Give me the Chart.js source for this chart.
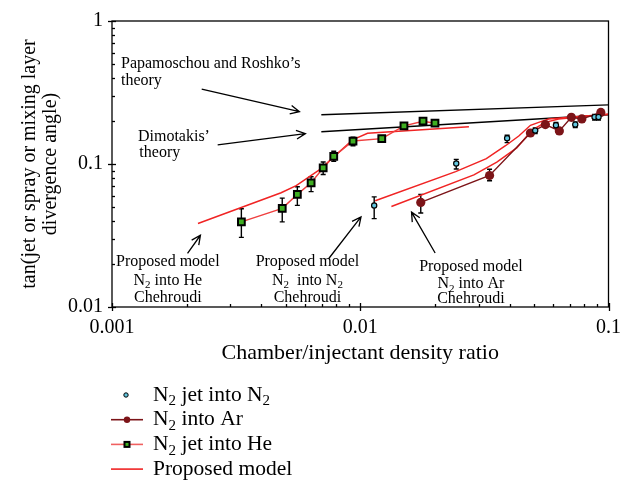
<!DOCTYPE html>
<html>
<head>
<meta charset="utf-8">
<script src="https://cdn.jsdelivr.net/npm/chart.js@4.4.1/dist/chart.umd.min.js"></script>
<style>
  html, body { margin: 0; padding: 0; background: #fff; }
</style>
</head>
<body>
<canvas id="myChart" width="630" height="482"></canvas>
<script>
var font = 'Liberation Serif';

// N2 jet into He (green squares, with error bars)
var heX  = [0.00332, 0.00485, 0.00558, 0.00634, 0.00709, 0.00782, 0.00935, 0.01221, 0.0150, 0.0179, 0.0200];
var heY  = [0.0394, 0.0490, 0.0613, 0.0739, 0.0938, 0.1131, 0.1447, 0.1505, 0.1848, 0.1992, 0.1928];
var heLo = [0.0307, 0.0394, 0.0514, 0.0641, 0.0844, 0.1045, 0.1342, 0.1436, 0.1764, 0.1901, 0.1850];
var heHi = [0.0486, 0.0577, 0.0694, 0.0814, 0.1033, 0.1229, 0.1538, 0.1577, 0.1936, 0.2087, 0.2010];

// N2 jet into N2 (cyan circles, no line)
var n2X  = [0.01138, 0.02436, 0.03905, 0.05067, 0.06142, 0.07347, 0.08786, 0.09117];
var n2Y  = [0.0512, 0.1008, 0.1514, 0.1712, 0.1865, 0.1886, 0.2128, 0.2128];
var n2Lo = [0.0415, 0.0922, 0.1411, 0.1630, 0.1780, 0.1800, 0.2030, 0.2030];
var n2Hi = [0.0589, 0.1078, 0.1587, 0.1790, 0.1950, 0.1970, 0.2220, 0.2220];

// N2 into Ar (dark red circles joined by a line)
var arX  = [0.01753, 0.03318, 0.04848, 0.05569, 0.06339, 0.07086, 0.07811, 0.09314];
var arY  = [0.0539, 0.0831, 0.1648, 0.1886, 0.1703, 0.2121, 0.2065, 0.2294];
var arLo = [0.0454, 0.0764, null, null, 0.1620, null, null, null];
var arHi = [0.0613, 0.0918, null, null, 0.1780, null, null, null];

// proposed model curves
var modelHeX = [0.00222, 0.00480, 0.00552, 0.00684, 0.00931, 0.0107, 0.0274];
var modelHeY = [0.0384, 0.0630, 0.0706, 0.0908, 0.1475, 0.1638, 0.1819];
var modelN2X = [0.01149, 0.02423, 0.03221, 0.03847, 0.04351, 0.04848, 0.05234, 0.05741, 0.07125, 0.1];
var modelN2Y = [0.0553, 0.0885, 0.1090, 0.1342, 0.1570, 0.1865, 0.1955, 0.2062, 0.2128, 0.2230];
var modelArX = [0.01335, 0.02869, 0.03549, 0.04270, 0.04920, 0.05569, 0.06297, 0.1];
var modelArY = [0.0504, 0.0839, 0.1032, 0.1295, 0.1725, 0.1955, 0.2062, 0.2230];

// theory lines
var papX = [0.00697, 0.1];
var papY = [0.221, 0.259];
var dimX = [0.00697, 0.1];
var dimY = [0.168, 0.221];

// axis tick labels
var xMajor = [0.001, 0.01, 0.1];
var yMajor = [0.01, 0.1, 1];

var legendLabels = ['N_2 jet into N_2', 'N_2 into Ar', 'N_2 jet into He', 'Proposed model'];

// text notes and arrows, in data coordinates
var notes = [
  { t: 'Papamoschou and Roshko\u2019s', x: 0.001087, y: 0.501, a: 'left' },
  { t: 'theory', x: 0.001087, y: 0.384, a: 'left' },
  { t: 'Dimotakis\u2019', x: 0.001272, y: 0.1545, a: 'left' },
  { t: 'theory', x: 0.001289, y: 0.1202, a: 'left' },
  { t: 'Proposed model', x: 0.001679, y: 0.0207, a: 'center' },
  { t: 'N_2 into He', x: 0.001679, y: 0.01537, a: 'center' },
  { t: 'Chehroudi', x: 0.001679, y: 0.01159, a: 'center' },
  { t: 'Proposed model', x: 0.006125, y: 0.0207, a: 'center' },
  { t: 'N_2  into N_2', x: 0.006125, y: 0.01537, a: 'center' },
  { t: 'Chehroudi', x: 0.006125, y: 0.01159, a: 'center' },
  { t: 'Proposed model', x: 0.02791, y: 0.01915, a: 'center' },
  { t: 'N_2 into Ar', x: 0.02791, y: 0.01443, a: 'center' },
  { t: 'Chehroudi', x: 0.02791, y: 0.01141, a: 'center' }
];
var arrows = [
  { x1: 0.002298, y1: 0.3333, x2: 0.005689, y2: 0.2323 },
  { x1: 0.002665, y1: 0.1362, x2: 0.006013, y2: 0.1632 },
  { x1: 0.002015, y1: 0.02371, x2: 0.002271, y2: 0.03175 },
  { x1: 0.007483, y1: 0.02192, x2: 0.01007, y2: 0.04271 },
  { x1: 0.02003, y1: 0.02385, x2: 0.01609, y2: 0.04606 }
];

var red = '#f02424';
var heLine = '#ef3f3f';
var darkRed = '#7c1418';
var cyan = '#62c6df';
var green = '#3fae22';

function pts(xs, ys) {
  return xs.map(function (x, i) { return { x: x, y: ys[i] }; });
}

function decadeTicks(lo, hi) {
  var out = [];
  for (var e = Math.round(Math.log10(lo)); e < Math.round(Math.log10(hi)); e++) {
    for (var m = 1; m < 10; m++) out.push(m * Math.pow(10, e));
  }
  out.push(hi);
  return out;
}

function isMajor(v, list) {
  return list.some(function (m) { return Math.abs(v / m - 1) < 1e-6; });
}

// text with "_2" style subscripts
function richText(ctx, str, x, y, size, align) {
  var parts = str.split(/_(\d)/);
  var sub = Math.round(size * 0.7);
  var widths = parts.map(function (p, i) {
    ctx.font = (i % 2 ? sub : size) + 'px "' + font + '"';
    return ctx.measureText(p).width;
  });
  var total = widths.reduce(function (a, b) { return a + b; }, 0);
  var cx = align === 'center' ? x - total / 2 : x;
  ctx.textAlign = 'left';
  ctx.textBaseline = 'middle';
  parts.forEach(function (p, i) {
    ctx.font = (i % 2 ? sub : size) + 'px "' + font + '"';
    ctx.fillText(p, cx, y + (i % 2 ? size * 0.3 : 0));
    cx += widths[i];
  });
}

var errorSets = [
  { xs: heX, lo: heLo, hi: heHi },
  { xs: n2X, lo: n2Lo, hi: n2Hi },
  { xs: arX, lo: arLo, hi: arHi }
];

var errorBars = {
  id: 'errorBars',
  beforeDatasetsDraw: function (chart) {
    var ctx = chart.ctx, xs = chart.scales.x, ys = chart.scales.y;
    ctx.save();
    ctx.strokeStyle = '#000';
    ctx.lineWidth = 1.4;
    errorSets.forEach(function (s) {
      s.xs.forEach(function (xv, i) {
        if (s.lo[i] == null) return;
        var px = xs.getPixelForValue(xv);
        var y1 = ys.getPixelForValue(s.lo[i]);
        var y2 = ys.getPixelForValue(s.hi[i]);
        ctx.beginPath();
        ctx.moveTo(px, y1); ctx.lineTo(px, y2);
        ctx.moveTo(px - 2.5, y1); ctx.lineTo(px + 2.5, y1);
        ctx.moveTo(px - 2.5, y2); ctx.lineTo(px + 2.5, y2);
        ctx.stroke();
      });
    });
    ctx.restore();
  }
};

var frameAndNotes = {
  id: 'frameAndNotes',
  afterDraw: function (chart) {
    var ctx = chart.ctx, a = chart.chartArea;
    var xs = chart.scales.x, ys = chart.scales.y;
    ctx.save();
    ctx.strokeStyle = '#000';
    ctx.fillStyle = '#000';
    ctx.lineWidth = 1.3;
    ctx.strokeRect(a.left, a.top, a.right - a.left, a.bottom - a.top);

    // tick marks: majors cross the axis, minors point inward
    xs.ticks.forEach(function (t) {
      var px = Math.round(xs.getPixelForValue(t.value)) + 0.5;
      var major = isMajor(t.value, xMajor);
      ctx.beginPath();
      ctx.moveTo(px, a.bottom + (major ? 4 : 0));
      ctx.lineTo(px, a.bottom - (major ? 4 : 3));
      ctx.stroke();
    });
    ys.ticks.forEach(function (t) {
      var py = Math.round(ys.getPixelForValue(t.value)) + 0.5;
      var major = isMajor(t.value, yMajor);
      ctx.beginPath();
      ctx.moveTo(a.left - (major ? 4 : 0), py);
      ctx.lineTo(a.left + (major ? 4 : 3), py);
      ctx.stroke();
    });

    // arrows
    ctx.lineWidth = 1.3;
    arrows.forEach(function (r) {
      var x1 = xs.getPixelForValue(r.x1), y1 = ys.getPixelForValue(r.y1);
      var x2 = xs.getPixelForValue(r.x2), y2 = ys.getPixelForValue(r.y2);
      var ang = Math.atan2(y2 - y1, x2 - x1), h = 10, w = 0.45;
      ctx.beginPath();
      ctx.moveTo(x1, y1); ctx.lineTo(x2, y2);
      ctx.moveTo(x2 - h * Math.cos(ang - w), y2 - h * Math.sin(ang - w));
      ctx.lineTo(x2, y2);
      ctx.lineTo(x2 - h * Math.cos(ang + w), y2 - h * Math.sin(ang + w));
      ctx.stroke();
    });

    notes.forEach(function (n) {
      richText(ctx, n.t, xs.getPixelForValue(n.x), ys.getPixelForValue(n.y), 16, n.a);
    });

    // legend, one entry per row under the axis title
    var rowY = a.bottom + 88, step = 24.7, lx = a.left - 1;
    legendLabels.forEach(function (lab, i) {
      var yy = rowY + i * step;
      ctx.lineWidth = 1.6;
      if (i === 1 || i === 2 || i === 3) {
        ctx.strokeStyle = i === 1 ? darkRed : (i === 2 ? '#f06060' : red);
        ctx.beginPath();
        ctx.moveTo(lx, yy); ctx.lineTo(lx + 32, yy);
        ctx.stroke();
      }
      if (i === 0) {
        ctx.beginPath();
        ctx.arc(lx + 15, yy, 2.2, 0, Math.PI * 2);
        ctx.fillStyle = cyan; ctx.fill();
        ctx.strokeStyle = '#000'; ctx.lineWidth = 1; ctx.stroke();
      } else if (i === 1) {
        ctx.beginPath();
        ctx.arc(lx + 16, yy, 3.2, 0, Math.PI * 2);
        ctx.fillStyle = darkRed; ctx.fill();
      } else if (i === 2) {
        ctx.fillStyle = '#000';
        ctx.fillRect(lx + 12.5, yy - 3.5, 7, 7);
        ctx.fillStyle = green;
        ctx.fillRect(lx + 14.5, yy - 1.5, 3, 3);
      }
      ctx.fillStyle = '#000';
      richText(ctx, lab, lx + 42, yy, 21.5, 'left');
    });
    ctx.restore();
  }
};

Chart.defaults.font.family = font;
Chart.defaults.color = '#000';

var ctx = document.getElementById('myChart').getContext('2d');
var myChart = new Chart(ctx, {
  type: 'scatter',
  data: {
    datasets: [{
      label: 'N2 jet into N2',
      data: pts(n2X, n2Y),
      showLine: false,
      pointRadius: 2.6,
      pointBackgroundColor: cyan,
      pointBorderColor: '#000',
      pointBorderWidth: 1.2,
      order: 1
    }, {
      label: 'N2 into Ar',
      data: pts(arX, arY),
      showLine: true,
      borderColor: darkRed,
      borderWidth: 1.4,
      pointRadius: 4.6,
      pointBackgroundColor: darkRed,
      pointBorderColor: darkRed,
      pointBorderWidth: 0,
      order: 2
    }, {
      label: 'N2 jet into He',
      data: pts(heX, heY),
      showLine: true,
      borderColor: heLine,
      borderWidth: 1.4,
      pointStyle: 'rect',
      pointRadius: 4.8,
      pointBackgroundColor: green,
      pointBorderColor: '#000',
      pointBorderWidth: 2,
      order: 1
    }, {
      label: 'Proposed model',
      data: pts(modelHeX, modelHeY),
      showLine: true,
      borderColor: red,
      borderWidth: 1.5,
      pointRadius: 0,
      order: 4
    }, {
      label: 'Proposed model N2',
      data: pts(modelN2X, modelN2Y),
      showLine: true,
      borderColor: red,
      borderWidth: 1.5,
      pointRadius: 0,
      order: 4
    }, {
      label: 'Proposed model Ar',
      data: pts(modelArX, modelArY),
      showLine: true,
      borderColor: red,
      borderWidth: 1.5,
      pointRadius: 0,
      order: 4
    }, {
      label: 'Papamoschou and Roshko',
      data: pts(papX, papY),
      showLine: true,
      borderColor: '#000',
      borderWidth: 1.4,
      pointRadius: 0,
      order: 5
    }, {
      label: 'Dimotakis',
      data: pts(dimX, dimY),
      showLine: true,
      borderColor: '#000',
      borderWidth: 1.4,
      pointRadius: 0,
      order: 5
    }]
  },
  options: {
    responsive: false,
    animation: false,
    events: [],
    layout: { padding: { left: 0, top: 14, right: 20, bottom: 113 } },
    plugins: {
      legend: { display: false },
      tooltip: { enabled: false }
    },
    scales: {
      x: {
        type: 'logarithmic',
        min: 0.001,
        max: 0.1,
        afterBuildTicks: function (s) {
          s.ticks = decadeTicks(0.001, 0.1).map(function (v) { return { value: v }; });
        },
        afterFit: function (s) { s.height = 62; },
        grid: { display: false, drawTicks: false },
        border: { display: false },
        ticks: {
          autoSkip: false,
          maxRotation: 0,
          padding: 9,
          font: { size: 20 },
          callback: function (v) { return isMajor(v, xMajor) ? String(v) : ''; }
        },
        title: {
          display: true,
          text: 'Chamber/injectant density ratio',
          font: { size: 22 },
          padding: { top: 0, bottom: 3 }
        }
      },
      y: {
        type: 'logarithmic',
        min: 0.01,
        max: 1,
        afterBuildTicks: function (s) {
          s.ticks = decadeTicks(0.01, 1).map(function (v) { return { value: v }; });
        },
        afterFit: function (s) { s.width = 112; },
        grid: { display: false, drawTicks: false },
        border: { display: false },
        ticks: {
          autoSkip: false,
          padding: 9,
          font: { size: 20 },
          callback: function (v) { return isMajor(v, yMajor) ? String(v) : ''; }
        },
        title: {
          display: true,
          text: ['tan(jet or spray or mixing layer', 'divergence angle)'],
          font: { size: 20, lineHeight: 1.05 },
          padding: { top: 19, bottom: 0 }
        }
      }
    }
  },
  plugins: [errorBars, frameAndNotes]
});
</script>
</body>
</html>
